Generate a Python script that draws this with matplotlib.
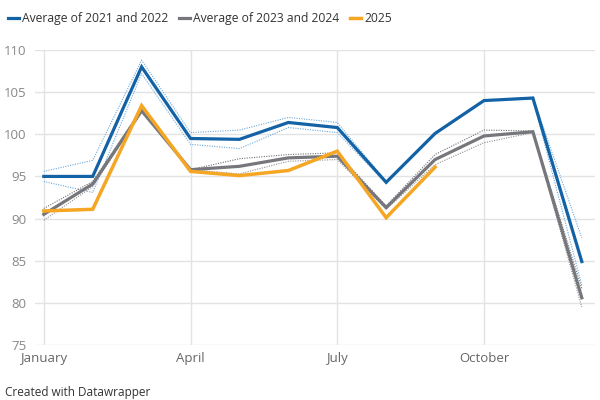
import numpy as np
import matplotlib.pyplot as plt

plt.rcParams['font.family'] = ['Open Sans', 'DejaVu Sans']

# Monthly index values
months = ["January", "February", "March", "April", "May", "June", "July",
          "August", "September", "October", "November", "December"]
avg_2021_2022 = [95.0, 95.0, 108.0, 99.5, 99.4, 101.4, 100.8, 94.3, 100.1, 104.0, 104.3, 84.9]
avg_2023_2024 = [90.5, 94.1, 102.8, 95.8, 96.2, 97.2, 97.4, 91.3, 97.0, 99.8, 100.3, 80.6]
y2025 = [90.9, 91.1, 103.4, 95.6, 95.1, 95.7, 98.0, 90.1, 96.1]

# thin dotted lines for the single years
y2021 = [95.6, 96.9, 108.8, 100.2, 100.5, 102.0, 101.4, 94.4, 100.2, 104.0, 104.4, 87.7]
y2022 = [94.4, 93.1, 107.2, 98.8, 98.3, 100.8, 100.2, 94.2, 100.0, 104.0, 104.2, 82.1]
y2023 = [91.2, 94.4, 103.0, 95.8, 97.1, 97.6, 97.8, 91.5, 97.6, 100.5, 100.4, 81.7]
y2024 = [89.8, 93.8, 102.6, 95.8, 95.3, 96.8, 97.0, 91.1, 96.4, 99.0, 100.2, 79.5]

tick_months = ["January", "April", "July", "October"]
y_ticks = [75, 80, 85, 90, 95, 100, 105, 110]

blue = '#1262a5'
gray = '#76777d'
orange = '#f5a623'

fig = plt.figure(figsize=(6, 4), dpi=100)
ax = fig.add_axes([35 / 600, 1 - 345 / 400, 560 / 600, 295 / 400])

x = np.arange(len(months))

ax.plot(x, y2021, color='#6aa8dc', lw=0.8, ls=(0, (1, 1.2)), clip_on=False)
ax.plot(x, y2022, color='#6aa8dc', lw=0.8, ls=(0, (1, 1.2)), clip_on=False)
ax.plot(x, y2023, color='#707070', lw=0.8, ls=(0, (1, 1.2)), clip_on=False)
ax.plot(x, y2024, color='#909090', lw=0.8, ls=(0, (1, 1.2)), clip_on=False)

ax.plot(x, avg_2021_2022, color=blue, lw=2.3, solid_joinstyle='miter', label='Average of 2021 and 2022', clip_on=False)
ax.plot(x, avg_2023_2024, color=gray, lw=2.3, solid_joinstyle='miter', label='Average of 2023 and 2024', clip_on=False)
ax.plot(x[:len(y2025)], y2025, color=orange, lw=2.5, solid_joinstyle='miter', label='2025', clip_on=False)

ax.set_xlim(-0.18, 11.27)
ax.set_ylim(75, 110)
ax.set_yticks(y_ticks)
ax.set_xticks([months.index(m) for m in tick_months])
ax.set_xticklabels(tick_months)

for s in ax.spines.values():
    s.set_visible(False)
ax.grid(True, color='#e3e3e3', lw=1)
ax.set_axisbelow(True)
ax.tick_params(length=0, labelsize=9.5, colors='#888888', pad=6)
ax.tick_params(axis='x', labelcolor='#666666', pad=5)

leg = fig.legend(loc='upper left', bbox_to_anchor=(0.0, 0.99), ncol=3, frameon=False,
                 handlelength=0.9, handletextpad=0.25, columnspacing=0.9,
                 fontsize=8.7, borderaxespad=0.3)
for t in leg.get_texts():
    t.set_color('#333333')

fig.text(0.008, 1 - 386 / 400, 'Created with Datawrapper', fontsize=8.5, color='#333333', va='top')

fig.savefig('out.png', dpi=100)
